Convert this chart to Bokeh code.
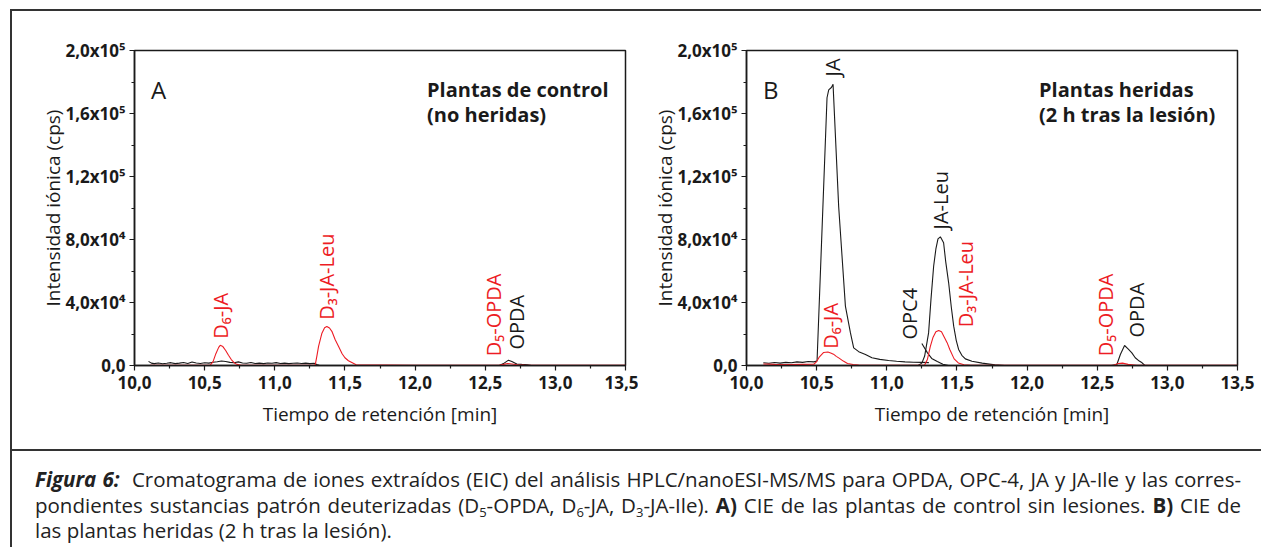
import math
from bokeh.plotting import figure
from bokeh.models import Range1d, FixedTicker, ColumnDataSource, Div, Spacer
from bokeh.layouts import row, column
from bokeh.embed import file_html
from bokeh.resources import INLINE
from bokeh.core.properties import value

# ---------------- data ----------------
x_ticks = [10.0, 10.5, 11.0, 11.5, 12.0, 12.5, 13.0, 13.5]
x_minor = [10.25, 10.75, 11.25, 11.75, 12.25, 12.75, 13.25]
x_tick_labels = ["10,0", "10,5", "11,0", "11,5", "12,0", "12,5", "13,0", "13,5"]
y_ticks = [0, 40000, 80000, 120000, 160000, 200000]
y_minor = [20000, 60000, 100000, 140000, 180000]
y_tick_labels = ["0,0", "4,0x10\u2074", "8,0x10\u2074", "1,2x10\u2075", "1,6x10\u2075", "2,0x10\u2075"]

# Panel A (control plants)
a_noise_t = [10.10, 10.12, 10.14, 10.17, 10.20, 10.23, 10.26, 10.29, 10.32, 10.35, 10.38, 10.41,
             10.44, 10.47, 10.50, 10.53, 10.56, 10.59, 10.62, 10.65, 10.68, 10.71, 10.74, 10.77,
             10.80, 10.83, 10.86, 10.89, 10.92, 10.95, 10.98, 11.01, 11.04, 11.07, 11.10, 11.13,
             11.16, 11.19, 11.22, 11.25, 11.28, 11.30, 11.32]
a_noise_v = [2600, 1500, 1200, 1600, 1100, 1400, 1800, 1200, 1500, 1900, 1300, 2200,
             1600, 1300, 1700, 1500, 2100, 2400, 2900, 2500, 2000, 1700, 2300, 1600,
             1400, 1900, 1300, 1500, 1200, 1600, 1400, 1800, 1300, 1500, 1200, 1400,
             1600, 1300, 1500, 1200, 1400, 600, 0]
a_opda_t = [12.60, 12.63, 12.666, 12.69, 12.725, 12.76, 12.80, 12.83]
a_opda_v = [0, 1200, 3400, 2600, 1000, 700, 500, 0]
a_std_t = [10.11, 10.30, 10.54, 10.56, 10.58, 10.60, 10.611, 10.63, 10.65, 10.67, 10.69, 10.71,
           10.73, 10.76, 11.00, 11.288, 11.30, 11.312, 11.336, 11.355, 11.371, 11.39, 11.407,
           11.43, 11.454, 11.48, 11.50, 11.525, 11.549, 11.58, 12.00, 12.60, 12.63, 12.66,
           12.69, 12.73, 12.78, 12.85, 13.20, 13.50]
a_std_v = [200, 150, 200, 2500, 7500, 11500, 12800, 12000, 9500, 6500, 3800, 1800,
           700, 200, 150, 300, 6000, 12200, 20500, 24000, 24800, 23800, 21700,
           16500, 12200, 7500, 4900, 3000, 1900, 500, 150, 150, 700, 1300,
           1000, 500, 250, 150, 100, 100]

# Panel B (wounded plants)
b_ja_t = [10.12, 10.16, 10.20, 10.24, 10.28, 10.32, 10.36, 10.40, 10.44, 10.48, 10.503,
          10.574, 10.586, 10.605, 10.617, 10.657, 10.705, 10.741, 10.764, 10.80, 10.848,
          10.894, 10.95, 11.013, 11.07, 11.13, 11.19, 11.25, 11.30]
b_ja_v = [1700, 1400, 1900, 1500, 2000, 1700, 2300, 2000, 2500, 2300, 2800,
          170000, 175000, 176500, 178500, 101000, 37700, 20700, 11200, 8800, 7000,
          4900, 3900, 3200, 2700, 2300, 2100, 2000, 1800]
b_opc4_t = [11.25, 11.29, 11.32, 11.36, 11.40, 11.44]
b_opc4_v = [14000, 8000, 4500, 2500, 800, 0]
b_jaleu_t = [11.17, 11.21, 11.25, 11.27, 11.298, 11.315, 11.334, 11.35, 11.365, 11.382,
             11.405, 11.42, 11.441, 11.46, 11.477, 11.495, 11.512, 11.535, 11.56, 11.607,
             11.68, 11.77, 11.84]
b_jaleu_v = [-1200, -600, 1500, 6000, 20700, 42000, 63000, 74000, 80400, 81700,
             77900, 66000, 52500, 37000, 25000, 16000, 10200, 6500, 4200, 2700,
             1500, 400, 0]
b_opda_t = [12.60, 12.64, 12.665, 12.695, 12.72, 12.747, 12.771, 12.80, 12.82, 12.84]
b_opda_v = [0, 600, 7000, 12700, 10500, 8000, 4900, 2800, 1700, 0]
b_std_t = [10.12, 10.20, 10.30, 10.40, 10.48, 10.50, 10.52, 10.55, 10.58, 10.60, 10.62,
           10.64, 10.66, 10.69, 10.72, 10.76, 10.80, 11.00, 11.27, 11.29, 11.31, 11.33,
           11.35, 11.37, 11.39, 11.41, 11.43, 11.45, 11.48, 11.51, 11.55, 11.60, 12.00,
           12.62, 12.65, 12.68, 12.72, 12.78, 13.00, 13.50]
b_std_v = [1000, 700, 600, 700, 800, 2500, 5500, 8300, 8600, 8000, 7200,
           5800, 4700, 2800, 1300, 600, 300, 200, 300, 4000, 12000, 18000,
           21500, 22300, 21500, 18000, 14500, 10000, 4200, 1600, 500, 200, 200,
           300, 1300, 1500, 700, 200, 150, 150]

# peak annotations: text, x (min), y (cps, start of rotated text), colour key
a_lab_text = ["D\u2086-JA", "D\u2083-JA-Leu", "D\u2085-OPDA", "OPDA"]
a_lab_x = [10.61, 11.37, 12.56, 12.72]
a_lab_y = [17000, 29000, 5900, 10100]
a_lab_kind = ["std", "std", "std", "endo"]
b_lab_text = ["JA", "D\u2086-JA", "OPC4", "JA-Leu", "D\u2083-JA-Leu", "D\u2085-OPDA", "OPDA"]
b_lab_x = [10.61, 10.60, 11.16, 11.38, 11.56, 12.56, 12.78]
b_lab_y = [183500, 10600, 16500, 86400, 24300, 5900, 17800]
b_lab_kind = ["endo", "std", "endo", "endo", "std", "std", "endo"]

a_letter = "A"
b_letter = "B"
a_title = ["Plantas de control", "(no heridas)"]
b_title = ["Plantas heridas", "(2 h tras la lesi\u00f3n)"]
x_title = "Tiempo de retenci\u00f3n [min]"
y_title = "Intensidad i\u00f3nica (cps)"

# ---------------- style ----------------
FONT = "Open Sans"
RED = "#ed1c24"
INK = "#1a1a1a"
BOX = "#333333"
COLORS = {"std": RED, "endo": INK}


def make_panel(width, left, right, black_traces, red_t, red_v, lab_text, lab_x, lab_y,
               lab_kind, letter, title):
    p = figure(width=width, height=438, x_range=Range1d(10, 13.5), y_range=Range1d(0, 200000),
               output_backend="svg", toolbar_location=None,
               min_border_left=left, min_border_right=right,
               min_border_top=39, min_border_bottom=84)
    p.grid.visible = False
    p.outline_line_color = INK
    p.outline_line_width = 1.5
    p.outline_line_alpha = 1.0

    xa = p.xaxis[0]
    xa.ticker = FixedTicker(ticks=x_ticks, minor_ticks=x_minor)
    xa.major_label_overrides = {t: s for t, s in zip(x_ticks, x_tick_labels)}
    ya = p.yaxis[0]
    ya.ticker = FixedTicker(ticks=y_ticks, minor_ticks=y_minor)
    ya.major_label_overrides = {t: s for t, s in zip(y_ticks, y_tick_labels)}
    xa.axis_label = x_title
    ya.axis_label = y_title
    for ax in (xa, ya):
        ax.axis_line_color = INK
        ax.axis_line_width = 1.5
        ax.major_tick_line_color = INK
        ax.major_tick_line_width = 1.2
        ax.minor_tick_line_color = INK
        ax.minor_tick_line_width = 1.2
        ax.major_tick_in = 0
        ax.major_tick_out = 5
        ax.minor_tick_in = 0
        ax.minor_tick_out = 3
        ax.major_label_text_font = FONT
        ax.major_label_text_font_style = "bold"
        ax.major_label_text_font_size = "17px"
        ax.major_label_text_color = INK
        ax.axis_label_text_font = FONT
        ax.axis_label_text_font_style = "normal"
        ax.axis_label_text_font_size = "19px"
        ax.axis_label_text_color = INK
    xa.major_label_standoff = 5
    xa.axis_label_standoff = 9
    ya.major_label_standoff = 4
    ya.axis_label_standoff = -3

    for t, v in black_traces:
        p.line(t, v, line_color=INK, line_width=1.1)
    p.line(red_t, red_v, line_color=RED, line_width=1.1)

    src = ColumnDataSource(dict(x=lab_x, y=lab_y, text=lab_text,
                                color=[COLORS[k] for k in lab_kind]))
    p.text(x="x", y="y", text="text", source=src, angle=math.pi / 2,
           text_align="left", text_baseline="middle", text_color="color",
           text_font=value(FONT), text_font_size="20px")

    p.text(x=[10.118], y=[175200], text=[letter], text_align="left",
           text_baseline="alphabetic", text_color=INK, text_font=value(FONT),
           text_font_size="24px")
    p.text(x=[12.085, 12.085], y=[175200, 159400], text=title, text_align="left",
           text_baseline="alphabetic", text_color=INK, text_font=value(FONT),
           text_font_size="20px", text_font_style="bold")
    return p


pA = make_panel(626, 122, 13, [(a_noise_t, a_noise_v), (a_opda_t, a_opda_v)],
                a_std_t, a_std_v, a_lab_text, a_lab_x, a_lab_y, a_lab_kind, a_letter, a_title)
pB = make_panel(623, 108, 24, [(b_ja_t, b_ja_v), (b_opc4_t, b_opc4_v),
                                (b_jaleu_t, b_jaleu_v), (b_opda_t, b_opda_v)],
                b_std_t, b_std_v, b_lab_text, b_lab_x, b_lab_y, b_lab_kind, b_letter, b_title)

sub = "font-size:13px;line-height:0;vertical-align:-4px;"
caption_html = (
    "<div style=\"font-family:'Open Sans';font-size:20.5px;line-height:25.5px;color:#222;"
    "width:1224px;padding:11px 0 0 18px;\">"
    "<div style='text-align:justify;text-align-last:justify;'><b><i>Figura 6:</i></b>&nbsp; "
    "Cromatograma de iones extraídos (EIC) del análisis HPLC/nanoESI-MS/MS para OPDA, OPC-4, "
    "JA y JA-Ile y las corres-</div>"
    "<div style='text-align:justify;text-align-last:justify;'>pondientes sustancias patrón "
    f"deuterizadas (D<span style='{sub}'>5</span>-OPDA, D<span style='{sub}'>6</span>-JA, "
    f"D<span style='{sub}'>3</span>-JA-Ile). <b>A)</b> CIE de las plantas de control sin "
    "lesiones. <b>B)</b> CIE de</div>"
    "<div>las plantas heridas (2 h tras la lesión).</div>"
    "</div>"
)
caption = Div(text=caption_html, width=1249, height=96)


def bar(w, h):
    return Spacer(width=w, height=h, styles={"background-color": BOX})


content = column(row(pA, pB, spacing=0), bar(1249, 2), caption, spacing=0)
boxed = column(bar(1251, 2), row(bar(2, 536), content, spacing=0), spacing=0)
root = row(Spacer(width=10, height=10), column(Spacer(width=10, height=9), boxed, spacing=0),
           spacing=0)

open("out.html", "w").write(file_html(root, INLINE))
